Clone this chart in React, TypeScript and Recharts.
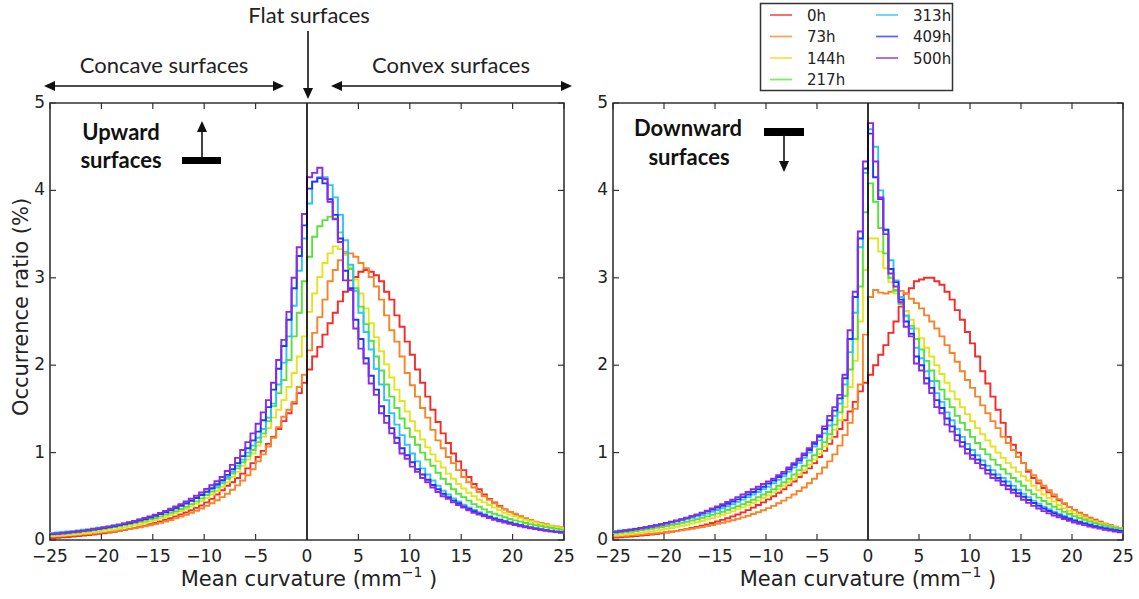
import { LineChart, Line, XAxis, YAxis, ReferenceLine, ReferenceArea } from 'recharts';

// ─── Data ─────────────────────────────────────────────────────────────────────
// Histograms of mean curvature, 100 bins of 0.5 mm^-1 from -25 to 25.

const BIN_START = -25;
const BIN_WIDTH = 0.5;
const X_TICKS = [-25, -20, -15, -10, -5, 0, 5, 10, 15, 20, 25];
const Y_TICKS = [0, 1, 2, 3, 4, 5];

const SERIES_NAMES = ['0h', '73h', '144h', '217h', '313h', '409h', '500h'];
const SERIES_COLORS = ['#f52a2a', '#f5842a', '#e3e31e', '#5ae03a', '#2fc3f5', '#2535f5', '#8a2be8'];

// Upward surfaces
const UP_0H = [
  0.022, 0.026, 0.03, 0.034, 0.039, 0.044, 0.05, 0.056, 0.063, 0.07,
  0.078, 0.086, 0.095, 0.105, 0.115, 0.126, 0.138, 0.151, 0.165, 0.18,
  0.196, 0.213, 0.231, 0.25, 0.27, 0.292, 0.315, 0.34, 0.367, 0.395,
  0.43, 0.47, 0.52, 0.57, 0.62, 0.66, 0.71, 0.76, 0.82, 0.88,
  0.95, 1.02, 1.1, 1.18, 1.27, 1.36, 1.45, 1.56, 1.68, 1.8,
  1.95, 2.1, 2.21, 2.35, 2.48, 2.6, 2.73, 2.84, 2.97, 3.01,
  3.07, 3.09, 3.07, 3.03, 2.96, 2.84, 2.75, 2.57, 2.44, 2.27,
  2.12, 1.95, 1.8, 1.64, 1.49, 1.35, 1.22, 1.11, 0.99, 0.9,
  0.8, 0.72, 0.64, 0.58, 0.52, 0.47, 0.43, 0.39, 0.35, 0.32,
  0.29, 0.27, 0.245, 0.225, 0.205, 0.19, 0.175, 0.16, 0.15, 0.14,
];
const UP_73H = [
  0.04, 0.043, 0.046, 0.05, 0.055, 0.059, 0.064, 0.069, 0.075, 0.081,
  0.087, 0.093, 0.1, 0.108, 0.116, 0.125, 0.135, 0.146, 0.157, 0.169,
  0.182, 0.196, 0.212, 0.229, 0.247, 0.267, 0.288, 0.31, 0.334, 0.36,
  0.39, 0.42, 0.455, 0.49, 0.53, 0.575, 0.625, 0.68, 0.74, 0.81,
  0.9, 0.98, 1.07, 1.17, 1.29, 1.41, 1.49, 1.58, 1.75, 1.89,
  2.17, 2.37, 2.55, 2.75, 2.96, 3.09, 3.2, 3.28, 3.28, 3.24,
  3.17, 3.11, 3.01, 2.9, 2.75, 2.57, 2.4, 2.27, 2.1, 1.91,
  1.77, 1.64, 1.51, 1.4, 1.26, 1.14, 1.05, 0.95, 0.88, 0.8,
  0.72, 0.66, 0.6, 0.55, 0.5, 0.46, 0.42, 0.38, 0.35, 0.32,
  0.3, 0.27, 0.25, 0.23, 0.21, 0.195, 0.18, 0.165, 0.155, 0.145,
];
const UP_144H = [
  0.045, 0.049, 0.053, 0.058, 0.063, 0.068, 0.074, 0.08, 0.087, 0.094,
  0.102, 0.111, 0.12, 0.131, 0.142, 0.154, 0.167, 0.181, 0.196, 0.212,
  0.229, 0.247, 0.266, 0.287, 0.309, 0.332, 0.357, 0.384, 0.413, 0.445,
  0.48, 0.52, 0.56, 0.61, 0.66, 0.72, 0.78, 0.85, 0.92, 0.99,
  1.08, 1.18, 1.28, 1.4, 1.49, 1.6, 1.75, 1.91, 2.1, 2.33,
  2.61, 2.82, 3.01, 3.17, 3.28, 3.36, 3.33, 3.26, 3.12, 2.98,
  2.82, 2.65, 2.48, 2.32, 2.16, 2.01, 1.86, 1.72, 1.59, 1.47,
  1.36, 1.25, 1.15, 1.06, 0.98, 0.9, 0.83, 0.76, 0.7, 0.64,
  0.59, 0.54, 0.5, 0.46, 0.43, 0.4, 0.37, 0.34, 0.31, 0.29,
  0.27, 0.25, 0.23, 0.215, 0.2, 0.185, 0.17, 0.158, 0.146, 0.135,
];
const UP_217H = [
  0.061, 0.066, 0.071, 0.077, 0.083, 0.089, 0.096, 0.103, 0.111, 0.119,
  0.128, 0.137, 0.147, 0.158, 0.169, 0.181, 0.194, 0.207, 0.221, 0.236,
  0.252, 0.27, 0.29, 0.31, 0.33, 0.355, 0.38, 0.41, 0.44, 0.475,
  0.515, 0.555, 0.6, 0.65, 0.7, 0.76, 0.82, 0.89, 0.96, 1.03,
  1.12, 1.22, 1.36, 1.53, 1.68, 1.83, 2.06, 2.33, 2.6, 2.96,
  3.24, 3.47, 3.59, 3.66, 3.7, 3.68, 3.52, 3.3, 3.1, 2.88,
  2.67, 2.47, 2.28, 2.1, 1.94, 1.78, 1.64, 1.51, 1.39, 1.28,
  1.18, 1.09, 1.0, 0.92, 0.85, 0.77, 0.7, 0.64, 0.58, 0.53,
  0.49, 0.45, 0.41, 0.38, 0.35, 0.32, 0.3, 0.28, 0.26, 0.24,
  0.225, 0.21, 0.195, 0.182, 0.17, 0.158, 0.147, 0.137, 0.127, 0.118,
];
const UP_313H = [
  0.08, 0.085, 0.091, 0.097, 0.103, 0.11, 0.117, 0.124, 0.132, 0.14,
  0.149, 0.158, 0.168, 0.178, 0.189, 0.205, 0.219, 0.234, 0.25, 0.268,
  0.287, 0.307, 0.328, 0.35, 0.373, 0.397, 0.422, 0.45, 0.48, 0.512,
  0.546, 0.582, 0.62, 0.67, 0.72, 0.78, 0.85, 0.92, 1.0, 1.08,
  1.17, 1.27, 1.4, 1.56, 1.78, 2.03, 2.33, 2.68, 3.08, 3.45,
  3.85, 4.1, 4.15, 4.15, 4.06, 3.92, 3.72, 3.43, 3.15, 2.85,
  2.6, 2.38, 2.18, 1.96, 1.78, 1.6, 1.45, 1.32, 1.2, 1.09,
  0.99, 0.9, 0.82, 0.75, 0.68, 0.62, 0.565, 0.52, 0.475, 0.44,
  0.405, 0.373, 0.344, 0.318, 0.294, 0.272, 0.252, 0.234, 0.217, 0.201,
  0.186, 0.172, 0.159, 0.147, 0.136, 0.126, 0.116, 0.107, 0.099, 0.091,
];
const UP_409H = [
  0.068, 0.073, 0.078, 0.084, 0.09, 0.097, 0.104, 0.112, 0.12, 0.129,
  0.138, 0.148, 0.158, 0.17, 0.182, 0.195, 0.209, 0.224, 0.24, 0.258,
  0.277, 0.297, 0.318, 0.34, 0.364, 0.39, 0.418, 0.448, 0.48, 0.515,
  0.553, 0.594, 0.638, 0.685, 0.745, 0.81, 0.88, 0.96, 1.05, 1.14,
  1.24, 1.37, 1.52, 1.72, 1.96, 2.22, 2.52, 2.88, 3.25, 3.6,
  4.02, 4.1, 4.14, 4.08, 3.9, 3.72, 3.45, 3.08, 2.88, 2.52,
  2.3, 2.08, 1.88, 1.72, 1.53, 1.42, 1.28, 1.17, 1.05, 0.97,
  0.89, 0.81, 0.75, 0.69, 0.63, 0.58, 0.53, 0.49, 0.45, 0.42,
  0.385, 0.355, 0.33, 0.305, 0.285, 0.265, 0.245, 0.228, 0.212, 0.197,
  0.182, 0.168, 0.155, 0.143, 0.132, 0.122, 0.112, 0.103, 0.095, 0.088,
];
const UP_500H = [
  0.07, 0.075, 0.08, 0.086, 0.093, 0.1, 0.107, 0.115, 0.124, 0.133,
  0.143, 0.153, 0.164, 0.176, 0.189, 0.203, 0.218, 0.234, 0.251, 0.27,
  0.29, 0.31, 0.333, 0.357, 0.383, 0.41, 0.44, 0.472, 0.506, 0.543,
  0.583, 0.626, 0.672, 0.72, 0.79, 0.86, 0.94, 1.03, 1.12, 1.22,
  1.33, 1.46, 1.6, 1.8, 2.06, 2.29, 2.61, 3.0, 3.35, 3.73,
  4.15, 4.2, 4.26, 4.13, 3.87, 3.67, 3.41, 2.97, 2.86, 2.42,
  2.19, 2.02, 1.79, 1.66, 1.45, 1.34, 1.22, 1.11, 0.99, 0.93,
  0.84, 0.78, 0.71, 0.66, 0.6, 0.55, 0.5, 0.47, 0.43, 0.4,
  0.37, 0.34, 0.31, 0.29, 0.27, 0.25, 0.23, 0.215, 0.2, 0.185,
  0.17, 0.158, 0.146, 0.135, 0.125, 0.115, 0.105, 0.097, 0.09, 0.083,
];

// Downward surfaces
const DOWN_0H = [
  0.028, 0.032, 0.036, 0.04, 0.045, 0.05, 0.056, 0.062, 0.069, 0.077,
  0.085, 0.094, 0.104, 0.114, 0.125, 0.137, 0.15, 0.164, 0.179, 0.195,
  0.212, 0.23, 0.249, 0.27, 0.292, 0.316, 0.342, 0.37, 0.4, 0.43,
  0.465, 0.5, 0.54, 0.58, 0.625, 0.67, 0.72, 0.77, 0.82, 0.88,
  0.95, 1.02, 1.1, 1.18, 1.27, 1.37, 1.47, 1.58, 1.7, 1.8,
  1.89, 2.0, 2.12, 2.23, 2.37, 2.5, 2.67, 2.82, 2.88, 2.96,
  2.98, 3.0, 3.0, 2.96, 2.92, 2.84, 2.75, 2.63, 2.52, 2.38,
  2.25, 2.1, 1.93, 1.79, 1.64, 1.49, 1.34, 1.18, 1.09, 1.0,
  0.88, 0.78, 0.71, 0.65, 0.595, 0.545, 0.498, 0.455, 0.415, 0.378,
  0.344, 0.312, 0.283, 0.256, 0.231, 0.208, 0.187, 0.168, 0.151, 0.136,
];
const DOWN_73H = [
  0.042, 0.045, 0.049, 0.053, 0.057, 0.062, 0.067, 0.072, 0.078, 0.084,
  0.09, 0.097, 0.104, 0.112, 0.12, 0.129, 0.139, 0.149, 0.16, 0.172,
  0.184, 0.197, 0.211, 0.226, 0.242, 0.259, 0.277, 0.297, 0.318, 0.34,
  0.365, 0.39, 0.42, 0.45, 0.485, 0.52, 0.56, 0.6, 0.65, 0.7,
  0.76, 0.83, 0.9, 0.98, 1.08, 1.2, 1.34, 1.5, 1.78, 2.35,
  2.78, 2.86, 2.83, 2.82, 2.84, 2.86, 2.85, 2.82, 2.76, 2.71,
  2.65, 2.57, 2.5, 2.42, 2.33, 2.23, 2.14, 2.04, 1.93, 1.83,
  1.74, 1.64, 1.54, 1.45, 1.36, 1.28, 1.18, 1.11, 1.03, 0.95,
  0.88, 0.8, 0.74, 0.68, 0.62, 0.57, 0.52, 0.468, 0.421, 0.379,
  0.341, 0.307, 0.276, 0.249, 0.224, 0.201, 0.181, 0.163, 0.147, 0.132,
];
const DOWN_144H = [
  0.05, 0.056, 0.062, 0.068, 0.075, 0.082, 0.09, 0.098, 0.107, 0.117,
  0.127, 0.138, 0.15, 0.162, 0.175, 0.189, 0.203, 0.218, 0.234, 0.25,
  0.268, 0.287, 0.307, 0.328, 0.35, 0.373, 0.397, 0.423, 0.45, 0.48,
  0.51, 0.545, 0.58, 0.62, 0.66, 0.7, 0.75, 0.8, 0.86, 0.92,
  0.99, 1.07, 1.16, 1.26, 1.37, 1.52, 1.75, 2.05, 2.5, 3.09,
  3.45, 3.45, 3.3, 3.11, 2.95, 2.82, 2.72, 2.62, 2.52, 2.42,
  2.31, 2.2, 2.1, 2.0, 1.9, 1.8, 1.7, 1.61, 1.52, 1.44,
  1.36, 1.28, 1.21, 1.14, 1.07, 1.0, 0.94, 0.88, 0.83, 0.78,
  0.73, 0.68, 0.62, 0.57, 0.52, 0.48, 0.44, 0.4, 0.365, 0.335,
  0.305, 0.28, 0.255, 0.233, 0.213, 0.194, 0.177, 0.161, 0.146, 0.133,
];
const DOWN_217H = [
  0.075, 0.081, 0.088, 0.095, 0.103, 0.111, 0.12, 0.129, 0.139, 0.149,
  0.16, 0.171, 0.183, 0.196, 0.209, 0.223, 0.238, 0.254, 0.27, 0.287,
  0.305, 0.324, 0.344, 0.365, 0.387, 0.41, 0.435, 0.46, 0.49, 0.52,
  0.55, 0.58, 0.62, 0.66, 0.7, 0.75, 0.8, 0.85, 0.91, 0.97,
  1.04, 1.12, 1.21, 1.32, 1.46, 1.65, 1.95, 2.3, 2.9, 3.75,
  4.08, 3.87, 3.57, 3.28, 3.0, 2.85, 2.7, 2.56, 2.45, 2.3,
  2.18, 2.05, 1.94, 1.82, 1.72, 1.61, 1.52, 1.42, 1.34, 1.26,
  1.18, 1.11, 1.04, 0.98, 0.92, 0.86, 0.81, 0.76, 0.71, 0.67,
  0.62, 0.57, 0.525, 0.485, 0.447, 0.412, 0.38, 0.35, 0.322, 0.297,
  0.273, 0.251, 0.231, 0.212, 0.195, 0.179, 0.164, 0.151, 0.139, 0.128,
];
const DOWN_313H = [
  0.101, 0.108, 0.115, 0.122, 0.13, 0.138, 0.147, 0.156, 0.166, 0.177,
  0.188, 0.2, 0.212, 0.225, 0.239, 0.254, 0.27, 0.286, 0.304, 0.323,
  0.343, 0.364, 0.387, 0.411, 0.436, 0.462, 0.49, 0.52, 0.55, 0.58,
  0.61, 0.65, 0.69, 0.73, 0.78, 0.83, 0.88, 0.94, 1.0, 1.07,
  1.14, 1.22, 1.31, 1.42, 1.56, 1.78, 2.15, 2.6, 3.35, 4.2,
  4.7, 4.5, 4.0, 3.55, 3.2, 2.97, 2.78, 2.57, 2.42, 2.2,
  2.08, 1.93, 1.82, 1.68, 1.58, 1.46, 1.37, 1.27, 1.18, 1.1,
  1.03, 0.97, 0.91, 0.85, 0.8, 0.75, 0.71, 0.67, 0.62, 0.575,
  0.53, 0.49, 0.45, 0.415, 0.382, 0.352, 0.324, 0.298, 0.274, 0.252,
  0.232, 0.213, 0.196, 0.18, 0.165, 0.152, 0.14, 0.128, 0.118, 0.108,
];
const DOWN_409H = [
  0.095, 0.102, 0.11, 0.118, 0.127, 0.137, 0.147, 0.158, 0.17, 0.182,
  0.195, 0.209, 0.223, 0.238, 0.254, 0.271, 0.289, 0.308, 0.328, 0.349,
  0.37, 0.392, 0.415, 0.44, 0.465, 0.49, 0.52, 0.55, 0.58, 0.61,
  0.645, 0.68, 0.72, 0.76, 0.81, 0.86, 0.91, 0.97, 1.03, 1.1,
  1.18, 1.27, 1.37, 1.48, 1.62, 1.85, 2.3, 2.78, 3.45, 4.25,
  4.65, 4.15, 3.9, 3.55, 3.1, 2.95, 2.75, 2.5, 2.36, 2.1,
  2.0, 1.85, 1.74, 1.6, 1.51, 1.39, 1.3, 1.2, 1.12, 1.04,
  0.97, 0.92, 0.86, 0.8, 0.75, 0.71, 0.67, 0.62, 0.575, 0.535,
  0.495, 0.458, 0.423, 0.39, 0.36, 0.332, 0.306, 0.282, 0.26, 0.24,
  0.221, 0.203, 0.187, 0.172, 0.158, 0.145, 0.133, 0.122, 0.112, 0.103,
];
const DOWN_500H = [
  0.091, 0.098, 0.105, 0.113, 0.122, 0.131, 0.141, 0.152, 0.163, 0.175,
  0.188, 0.202, 0.217, 0.233, 0.251, 0.27, 0.29, 0.312, 0.335, 0.36,
  0.385, 0.41, 0.435, 0.46, 0.49, 0.52, 0.55, 0.58, 0.61, 0.64,
  0.67, 0.7, 0.74, 0.78, 0.83, 0.88, 0.93, 0.99, 1.05, 1.12,
  1.2, 1.3, 1.42, 1.52, 1.66, 1.89, 2.4, 2.84, 3.53, 4.33,
  4.77, 4.33, 3.92, 3.5, 3.05, 2.9, 2.72, 2.44, 2.33, 2.02,
  1.94, 1.79, 1.68, 1.52, 1.45, 1.32, 1.24, 1.14, 1.07, 0.99,
  0.93, 0.88, 0.82, 0.76, 0.71, 0.68, 0.63, 0.58, 0.54, 0.5,
  0.46, 0.425, 0.39, 0.36, 0.33, 0.305, 0.28, 0.26, 0.24, 0.22,
  0.2, 0.185, 0.17, 0.155, 0.142, 0.13, 0.118, 0.107, 0.097, 0.088,
];

const UP_SERIES = [UP_0H, UP_73H, UP_144H, UP_217H, UP_313H, UP_409H, UP_500H];
const DOWN_SERIES = [DOWN_0H, DOWN_73H, DOWN_144H, DOWN_217H, DOWN_313H, DOWN_409H, DOWN_500H];

// ─── Layout ───────────────────────────────────────────────────────────────────

const W = 1139;
const H = 599;
const PLOT_TOP = 103;
const PLOT_BOTTOM = 540;
const TICK_LEN = 6;
const AXIS_COLOR = '#333';
const TEXT_COLOR = '#222';
const AXIS_FONT = '"DejaVu Sans", sans-serif';
const NOTE_FONT = 'Lato, "Open Sans", sans-serif';

// one row per bin edge; the last edge repeats the last bin so the step closes at 25
function buildRows(series: number[][]) {
  const n = series[0].length;
  const rows: Record<string, number>[] = [];
  for (let i = 0; i <= n; i++) {
    const row: Record<string, number> = { x: BIN_START + i * BIN_WIDTH };
    series.forEach((s, k) => {
      row[`s${k}`] = s[Math.min(i, n - 1)];
    });
    rows.push(row);
  }
  return rows;
}

const fmt = (v: number) => (v < 0 ? `\u2212${-v}` : String(v));

function makeXTick() {
  return (props: any) => {
    const { x, payload } = props;
    return (
      <g>
        <line x1={x} x2={x} y1={PLOT_BOTTOM} y2={PLOT_BOTTOM - TICK_LEN} stroke={AXIS_COLOR} strokeWidth={1.2} />
        <line x1={x} x2={x} y1={PLOT_TOP} y2={PLOT_TOP + TICK_LEN} stroke={AXIS_COLOR} strokeWidth={1.2} />
        <text x={x} y={PLOT_BOTTOM + 22} textAnchor="middle" fontSize={17} fontFamily={AXIS_FONT} fill={TEXT_COLOR}>
          {fmt(payload.value)}
        </text>
      </g>
    );
  };
}

function makeYTick(plotLeft: number, plotRight: number) {
  return (props: any) => {
    const { y, payload } = props;
    return (
      <g>
        <line x1={plotLeft} x2={plotLeft + TICK_LEN} y1={y} y2={y} stroke={AXIS_COLOR} strokeWidth={1.2} />
        <line x1={plotRight} x2={plotRight - TICK_LEN} y1={y} y2={y} stroke={AXIS_COLOR} strokeWidth={1.2} />
        <text x={plotLeft - 5} y={y + 5} textAnchor="end" fontSize={17} fontFamily={AXIS_FONT} fill={TEXT_COLOR}>
          {fmt(payload.value)}
        </text>
      </g>
    );
  };
}

// ─── Panel ────────────────────────────────────────────────────────────────────

interface PanelProps {
  series: number[][];
  left: number;
  width: number;
  plotLeft: number;
  plotRight: number;
}

function Panel({ series, left, width, plotLeft, plotRight }: PanelProps) {
  const rows = buildRows(series);
  const yAxisWidth = plotLeft - 5;
  return (
    <div style={{ position: 'absolute', left, top: 0 }}>
      <LineChart
        width={width}
        height={H}
        data={rows}
        margin={{ top: PLOT_TOP, right: width - plotRight, bottom: 0, left: 5 }}
      >
        <XAxis
          type="number"
          dataKey="x"
          domain={[-25, 25]}
          ticks={X_TICKS}
          interval={0}
          allowDataOverflow
          axisLine={false}
          tickLine={false}
          height={H - PLOT_BOTTOM}
          tick={makeXTick()}
        />
        <YAxis
          type="number"
          domain={[0, 5]}
          ticks={Y_TICKS}
          interval={0}
          allowDataOverflow
          axisLine={false}
          tickLine={false}
          width={yAxisWidth}
          tick={makeYTick(plotLeft, plotRight)}
        />
        {series.map((_, k) => (
          <Line
            key={SERIES_NAMES[k]}
            type="stepAfter"
            dataKey={`s${k}`}
            stroke={SERIES_COLORS[k]}
            strokeWidth={1.9}
            dot={false}
            activeDot={false}
            isAnimationActive={false}
          />
        ))}
        <ReferenceLine x={0} stroke="#000" strokeWidth={1.6} />
        <ReferenceArea x1={-25} x2={25} y1={0} y2={5} fill="none" stroke={AXIS_COLOR} strokeWidth={1.6} />
      </LineChart>
    </div>
  );
}

// ─── Annotations ──────────────────────────────────────────────────────────────

function Arrow({ x1, y1, x2, y2 }: { x1: number; y1: number; x2: number; y2: number }) {
  // filled head at (x2, y2)
  const len = Math.hypot(x2 - x1, y2 - y1);
  const ux = (x2 - x1) / len;
  const uy = (y2 - y1) / len;
  const hl = 11;
  const hw = 5;
  const bx = x2 - ux * hl;
  const by = y2 - uy * hl;
  const pts = `${x2},${y2} ${bx - uy * hw},${by + ux * hw} ${bx + uy * hw},${by - ux * hw}`;
  return (
    <g>
      <line x1={x1} y1={y1} x2={bx} y2={by} stroke="#111" strokeWidth={1.6} />
      <polygon points={pts} fill="#111" />
    </g>
  );
}

function Overlay() {
  const legendRows = [15, 36.5, 58, 79.5];
  return (
    <svg width={W} height={H} style={{ position: 'absolute', left: 0, top: 0, pointerEvents: 'none' }}>
      {/* headers above the left panel */}
      <text x={309} y={23} textAnchor="middle" fontSize={22} fontFamily={NOTE_FONT} fill={TEXT_COLOR}>
        Flat surfaces
      </text>
      <Arrow x1={308} y1={31} x2={308} y2={99} />
      <text x={164} y={73} textAnchor="middle" fontSize={22} fontFamily={NOTE_FONT} fill={TEXT_COLOR}>
        Concave surfaces
      </text>
      <text x={451} y={73} textAnchor="middle" fontSize={22} fontFamily={NOTE_FONT} fill={TEXT_COLOR}>
        Convex surfaces
      </text>
      <Arrow x1={164} y1={86} x2={44} y2={86} />
      <Arrow x1={164} y1={86} x2={284} y2={86} />
      <Arrow x1={451} y1={86} x2={331} y2={86} />
      <Arrow x1={451} y1={86} x2={572} y2={86} />

      {/* upward / downward markers */}
      <text x={121} y={140} textAnchor="middle" fontSize={22} fontWeight="bold" fontFamily={NOTE_FONT} fill="#111">
        Upward
      </text>
      <text x={121} y={168} textAnchor="middle" fontSize={22} fontWeight="bold" fontFamily={NOTE_FONT} fill="#111">
        surfaces
      </text>
      <rect x={182} y={157} width={39} height={7} fill="#000" />
      <Arrow x1={202} y1={158} x2={202} y2={121} />

      <text x={688} y={136} textAnchor="middle" fontSize={22} fontWeight="bold" fontFamily={NOTE_FONT} fill="#111">
        Downward
      </text>
      <text x={689} y={165} textAnchor="middle" fontSize={22} fontWeight="bold" fontFamily={NOTE_FONT} fill="#111">
        surfaces
      </text>
      <rect x={764} y={128} width={40} height={8} fill="#000" />
      <Arrow x1={784} y1={135} x2={784} y2={172} />

      {/* axis titles */}
      <text
        x={22}
        y={307}
        transform="rotate(-90 22 307)"
        textAnchor="middle"
        dominantBaseline="middle"
        fontSize={21}
        fontFamily={AXIS_FONT}
        fill={TEXT_COLOR}
      >
        Occurrence ratio (%)
      </text>
      {[309, 868].map(cx => (
        <text key={cx} x={cx} y={586} textAnchor="middle" fontSize={21} fontFamily={AXIS_FONT} fill={TEXT_COLOR}>
          Mean curvature (mm
          <tspan dy={-9} fontSize={14}>{'\u22121'}</tspan>
          <tspan dy={9}> )</tspan>
        </text>
      ))}

      {/* legend */}
      <rect x={760.5} y={3.5} width={192} height={87} fill="#fff" stroke={AXIS_COLOR} strokeWidth={1.5} />
      {SERIES_NAMES.map((name, k) => {
        const col = k < 4 ? 0 : 1;
        const cy = legendRows[col === 0 ? k : k - 4];
        const lx = col === 0 ? 770 : 876;
        return (
          <g key={name}>
            <line x1={lx} x2={lx + 22} y1={cy} y2={cy} stroke={SERIES_COLORS[k]} strokeWidth={1.8} opacity={0.75} />
            <text x={lx + 37} y={cy + 5.5} fontSize={15} fontFamily={AXIS_FONT} fill={TEXT_COLOR}>
              {name}
            </text>
          </g>
        );
      })}
    </svg>
  );
}

// ─── App ──────────────────────────────────────────────────────────────────────

export default function App() {
  return (
    <div style={{ position: 'absolute', left: 0, top: 0, width: W, height: H, background: '#fff', overflow: 'hidden' }}>
      <Panel series={UP_SERIES} left={0} width={580} plotLeft={50} plotRight={564} />
      <Panel series={DOWN_SERIES} left={580} width={559} plotLeft={33} plotRight={543} />
      <Overlay />
    </div>
  );
}
